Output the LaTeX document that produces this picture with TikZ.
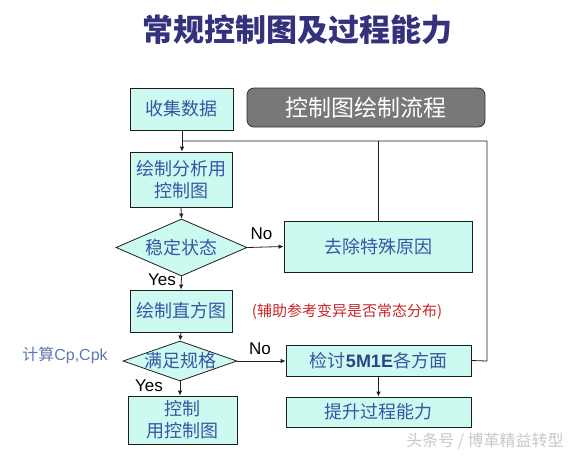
\documentclass[tikz,border=0pt]{standalone}
\usepackage{fontspec}
\setmainfont{Noto Sans CJK SC}
\newfontfamily\cjk{Noto Sans CJK SC}
\newfontfamily\lat{Liberation Sans}
\usetikzlibrary{shapes.geometric,arrows.meta}
\definecolor{boxfill}{RGB}{204,250,240}
\definecolor{boxtext}{RGB}{55,85,165}
\definecolor{titlecol}{RGB}{52,50,125}
\definecolor{hdrfill}{RGB}{120,120,120}
\definecolor{linecol}{RGB}{30,30,30}
\definecolor{redtext}{RGB}{200,40,40}
\definecolor{calctext}{RGB}{95,120,180}
\definecolor{wmark}{RGB}{200,200,200}
\tikzset{
  flowbox/.style={draw=linecol,line width=0.8pt,fill=boxfill,text=boxtext,
    inner sep=0pt,align=center,font=\cjk\fontsize{18}{22}\selectfont},
  dshape/.style={draw=linecol,line width=0.8pt,fill=boxfill,diamond,inner sep=0pt},
  dtext/.style={text=boxtext,inner sep=0pt,font=\cjk\fontsize{18}{22}\selectfont},
  conn/.style={draw=linecol,line width=0.8pt},
  arr/.style={conn,-{Latex[length=5pt,width=4.5pt]}},
  yn/.style={inner sep=0pt,font=\lat\fontsize{17}{20}\selectfont,text=black},
}
\begin{document}
\begin{tikzpicture}[x=1pt,y=-1pt]
\useasboundingbox (0,0) rectangle (581,456);
\fill[white] (0,0) rectangle (581,456);
% title
\node[font=\cjk\bfseries\fontsize{31}{35}\selectfont,text=titlecol,inner sep=0pt] (title) at (297,30) {常规控制图及过程能力};
% header
\node[draw=black!80,line width=0.8pt,fill=hdrfill,rounded corners=7pt,minimum width=238pt,minimum height=39pt,inner sep=0pt,text=white,font=\cjk\fontsize{23}{27}\selectfont] (hdr) at (366,107.5) {控制图绘制流程};
% boxes
\node[flowbox,minimum width=103pt,minimum height=42pt] (collect) at (181.5,109) {收集数据};
\node[flowbox,minimum width=102pt,minimum height=55pt] (analysis) at (181,179.5) {绘制分析用\\控制图};
\node[dshape,minimum width=131pt,minimum height=57pt] (d1) at (181.5,247.5) {};
\node[dtext] (d1t) at (d1.center) {稳定状态};
\node[flowbox,minimum width=188pt,minimum height=51pt] (remove) at (378,246.5) {去除特殊原因};
\node[flowbox,minimum width=102pt,minimum height=42pt] (hist) at (181,311) {绘制直方图};
\node[inner sep=0pt,text=redtext,font=\cjk\fontsize{15}{18}\selectfont] (note) at (347,312) {(辅助参考变异是否常态分布)};
\node[dshape,minimum width=114pt,minimum height=40pt] (d2) at (180,361) {};
\node[dtext] (d2t) at (d2.center) {满足规格};
\node[inner sep=0pt,text=calctext,font=\cjk\fontsize{16}{19}\selectfont] (calc) at (65,355) {计算\lat Cp,Cpk};
\node[flowbox,minimum width=185pt,minimum height=31pt] (review) at (378.5,360.5) {检讨{\lat\bfseries\color{boxtext!80!black}5M1E}各方面};
\node[flowbox,minimum width=185pt,minimum height=30pt] (improve) at (378.5,412) {提升过程能力};
\node[flowbox,minimum width=109pt,minimum height=48pt] (ctrl) at (182.5,420) {控制\\用控制图};
% labels
\node[yn] (no1) at (261.5,233.5) {No};
\node[yn] (yes1) at (162,279.5) {Yes};
\node[yn] (no2) at (260,349) {No};
\node[yn] (yes2) at (149,386) {Yes};
% watermark
\node[inner sep=0pt,text=wmark,font=\cjk\fontsize{16}{19}\selectfont] (wm) at (485,441) {头条号 / 博革精益转型};
% connectors
\coordinate (J) at (182,141);
\coordinate (R1) at (487,141);
\coordinate (R2) at (487,361);
\draw[arr] (collect.south -| J) -- (analysis.north -| J);
\draw[conn] (review.east) -- (R2) -- (R1) -- (J);
\draw[conn] (remove.north) -- (remove.north |- R1);
\draw[arr] (analysis.south) -- (d1.north);
\draw[arr] (d1.east) -- (remove.west);
\draw[arr] (d1.south) -- (hist.north);
\draw[arr] (hist.south) -- (d2.north);
\draw[arr] (d2.east) -- (d2.east -| review.west);
\draw[arr] (d2.south) -- (d2.south |- ctrl.north);
\draw[arr] (review.south) -- (improve.north);
\end{tikzpicture}
\end{document}
